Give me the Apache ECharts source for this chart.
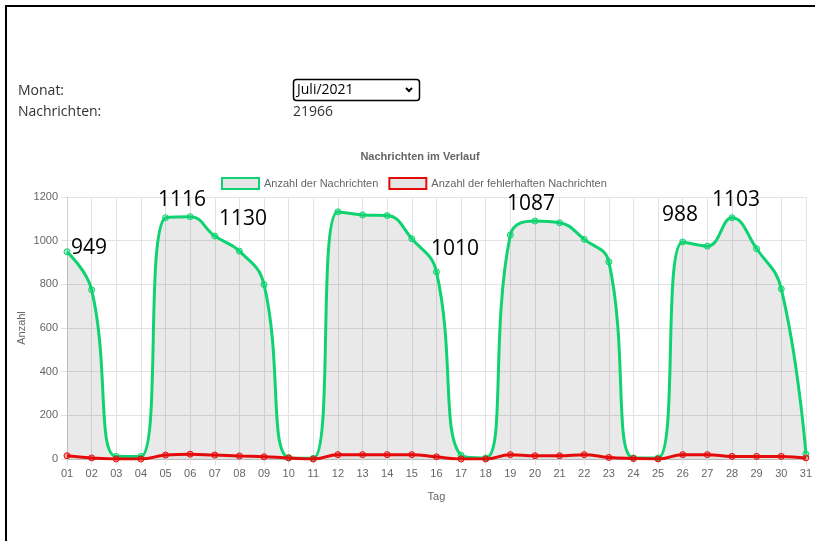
<!DOCTYPE html>
<html>
<head>
<meta charset="utf-8">
<script src="https://cdn.jsdelivr.net/npm/echarts@6/dist/echarts.min.js"></script>
<style>
html,body{margin:0;padding:0;background:#fff;}
#chart{width:815px;height:541px;}
</style>
</head>
<body>
<div id="chart"></div>
<script>
const days = ['01','02','03','04','05','06','07','08','09','10','11','12','13','14','15','16','17','18','19','20','21','22','23','24','25','26','27','28','29','30','31'];
const messages = [949,775,12,12,1105,1110,1021,952,799,6,3,1132,1118,1115,1009,857,17,5,1026,1090,1082,1006,903,5,5,994,975,1105,963,779,23];
const faulty = [15,5,0,0,18,22,18,14,10,5,0,20,20,20,20,10,0,0,20,15,15,20,7,2,0,20,20,12,12,12,5];
const yTicks = {min:0, max:1200, interval:200};
const seriesNames = ['Anzahl der Nachrichten','Anzahl der fehlerhaften Nachrichten'];
const annotations = [
  {text:'949', x:89, y:248},
  {text:'1116', x:182, y:200},
  {text:'1130', x:243, y:219},
  {text:'1010', x:455, y:249},
  {text:'1087', x:531, y:204},
  {text:'988', x:680, y:215},
  {text:'1103', x:736, y:200}
];
const monthLabel = 'Juli/2021';
const totalMessages = '21966';

const GREEN = '#0fd370';
const RED = '#e60b0b';
const AREA = 'rgba(0,0,0,0.12)';
const chart = echarts.init(document.getElementById('chart'), null, {renderer:'canvas'});
const gfont = 'Liberation Sans, Arial, Helvetica, sans-serif';
const hfont = 'Open Sans, Noto Sans, sans-serif';

const graphics = [
  {type:'rect', z:100, shape:{x:5, y:5, width:815, height:2}, style:{fill:'#000'}, silent:true},
  {type:'rect', z:100, shape:{x:5, y:5, width:2, height:540}, style:{fill:'#000'}, silent:true},
  {type:'text', z:100, left:18, top:84, style:{text:'Monat:', font:'14px ' + hfont, fill:'#333'}},
  {type:'text', z:100, left:18, top:105, style:{text:'Nachrichten:', font:'14px ' + hfont, fill:'#333'}},
  {type:'rect', z:100, shape:{x:293.5, y:79.5, width:126, height:21, r:3}, style:{fill:'#fff', stroke:'#000', lineWidth:1.5}},
  {type:'text', z:101, left:297, top:83, style:{text:monthLabel, font:'14px ' + hfont, fill:'#000'}},
  {type:'polyline', z:101, shape:{points:[[406,88],[409,91],[412,88]]}, style:{stroke:'#000', lineWidth:2, fill:null}},
  {type:'text', z:100, left:293, top:105, style:{text:totalMessages, font:'14px ' + hfont, fill:'#333'}}
];
annotations.forEach(a => graphics.push({
  type:'text', z:100, x:a.x, y:a.y,
  style:{text:a.text, font:'21px ' + hfont, fill:'#000', align:'center', verticalAlign:'middle'}
}));

chart.setOption({
  animation:false,
  backgroundColor:'#fff',
  title:{
    text:'Nachrichten im Verlauf', left:415, top:146, textAlign:'center',
    textStyle:{fontFamily:gfont, fontSize:11, fontWeight:'bold', color:'#666'}
  },
  legend:{
    top:172, left:216, itemWidth:37, itemHeight:11, itemGap:10,
    icon:'rect',
    textStyle:{fontFamily:gfont, fontSize:11, color:'#666'},
    data:[
      {name:seriesNames[0], itemStyle:{color:'#e5e5e5', borderColor:GREEN, borderWidth:2}},
      {name:seriesNames[1], itemStyle:{color:'#e5e5e5', borderColor:RED, borderWidth:2}}
    ]
  },
  grid:{left:67, right:8, top:197, bottom:82, containLabel:false},
  xAxis:{
    type:'category', data:days, boundaryGap:false,
    name:'Tag', nameLocation:'middle', nameGap:32, nameMoveOverlap:false,
    nameTextStyle:{fontFamily:gfont, fontSize:11, color:'#666'},
    axisLine:{show:true, lineStyle:{color:'#bbb', width:1}},
    axisTick:{show:true, alignWithLabel:true, length:6, lineStyle:{color:'#e3e3e3'}},
    axisLabel:{fontFamily:gfont, fontSize:11, color:'#666', margin:9, interval:0},
    splitLine:{show:true, lineStyle:{color:'#e3e3e3'}}
  },
  yAxis:{
    type:'value', min:yTicks.min, max:yTicks.max, interval:yTicks.interval,
    name:'Anzahl', nameLocation:'middle', nameGap:40, nameRotate:90, nameMoveOverlap:false,
    nameTextStyle:{fontFamily:gfont, fontSize:11, color:'#666'},
    axisLine:{show:true, lineStyle:{color:'#d0d0d0'}},
    axisTick:{show:true, length:6, lineStyle:{color:'#e3e3e3'}},
    axisLabel:{fontFamily:gfont, fontSize:11, color:'#666', margin:9, formatter:v => String(v)},
    splitLine:{show:true, lineStyle:{color:'#e3e3e3'}}
  },
  series:[
    {
      name:seriesNames[0], type:'line', data:messages, smooth:0.45,
      symbol:'circle', symbolSize:6, showSymbol:true,
      lineStyle:{color:GREEN, width:3},
      itemStyle:{color:'rgba(15,211,112,0.35)', borderColor:GREEN, borderWidth:1},
      areaStyle:{color:AREA, origin:'start'},
      z:3
    },
    {
      name:seriesNames[1], type:'line', data:faulty, smooth:0.45,
      symbol:'circle', symbolSize:6, showSymbol:true,
      lineStyle:{color:RED, width:3},
      itemStyle:{color:'rgba(230,11,11,0.35)', borderColor:RED, borderWidth:1},
      areaStyle:{color:'rgba(0,0,0,0.05)', origin:'start'},
      z:4
    }
  ],
  graphic:graphics
});
</script>
</body>
</html>
